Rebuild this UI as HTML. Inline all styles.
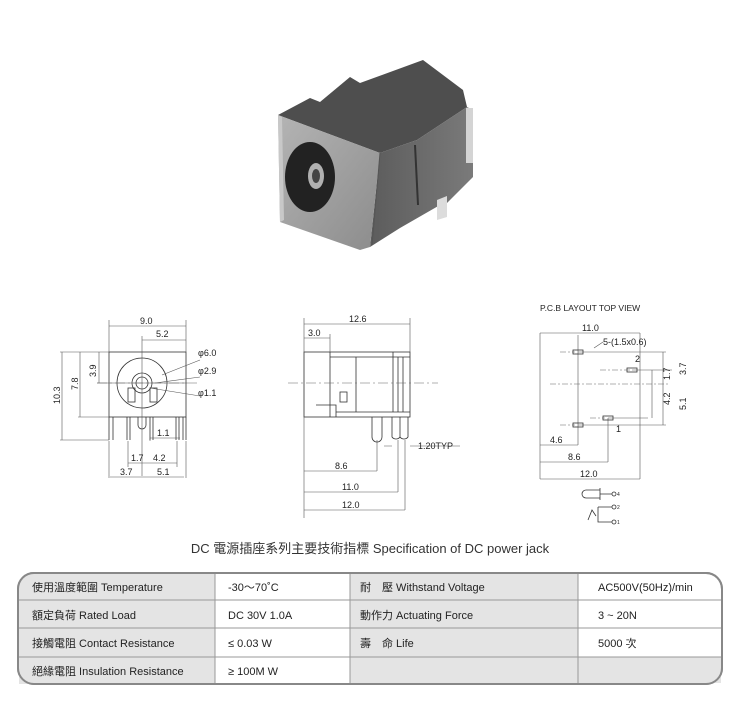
<!DOCTYPE html>
<html><head><meta charset="utf-8"><style>
body{margin:0;background:#fff;width:740px;height:700px;overflow:hidden;font-family:"Liberation Sans","Noto Sans CJK TC",sans-serif}
</style></head><body>
<svg width="740" height="700" viewBox="0 0 740 700" xmlns="http://www.w3.org/2000/svg" font-family="Liberation Sans, Noto Sans CJK TC, sans-serif">
<defs>
<linearGradient id="g1" x1="0" y1="0" x2="1" y2="1"><stop offset="0" stop-color="#b4b4b4"/><stop offset="1" stop-color="#8c8c8c"/></linearGradient>
<linearGradient id="g2" x1="0" y1="0" x2="1" y2="0"><stop offset="0" stop-color="#5c5c5c"/><stop offset="1" stop-color="#7a7a7a"/></linearGradient>
</defs>
<!-- photo -->
<g>
<polygon points="278,115 310,98 320,102 350,77 360,83 423,60 463,90 467,107 417,140 380,153" fill="#4e4e4e"/>
<polygon points="380,153 417,140 467,107 473,110 473,177 447,203 440,205 400,228 370,247" fill="url(#g2)"/>
<polygon points="278,115 380,153 370,247 360,250 280,222" fill="url(#g1)"/>
<polygon points="278,115 282,117 284,220 280,222" fill="#c8c8c8"/>
<ellipse cx="310" cy="177" rx="25" ry="35" fill="#222"/>
<ellipse cx="316" cy="176" rx="8" ry="13" fill="#b0b0b0"/>
<ellipse cx="316" cy="176" rx="4" ry="7" fill="#444"/>
<polygon points="437,200 447,196 447,217 437,220" fill="#dcdcdc"/>
<rect x="466" y="108" width="7" height="55" fill="#d4d4d4"/>
<line x1="415" y1="145" x2="418" y2="205" stroke="#333" stroke-width="2"/>
<line x1="380" y1="153" x2="372" y2="245" stroke="#555" stroke-width="1"/>
</g>

<g stroke="#333" stroke-width="0.8" fill="none">
<!-- front view -->
<rect x="109" y="352" width="77" height="65"/>
<circle cx="142" cy="383" r="25"/>
<circle cx="142" cy="383" r="10"/>
<circle cx="142" cy="383" r="6"/>
<rect x="128" y="388" width="7" height="14"/><rect x="150" y="388" width="7" height="14"/>
<path d="M138,417 v8 a4,4 0 0 0 8,0 v-8"/>
<path d="M109,417v23M113,417v23M127,417v23M130,417v23M150,417v23M153,417v23M176,417v23M179,417v23M183,417v23M186,417v23"/>
<g stroke="#555" stroke-width="0.6">
<path d="M109,320v32M186,320v32M142,336v140M109,326h77M142,340h44"/>
<path d="M60,352h49M60,440h49M78,417h31M97,383h90M62,352v88M80,352v65M99,352v31"/>
<path d="M128,441v26M177,441v26M150,441v-3M109,441v37M186,441v37M150,438h30M128,463h49M110,477h74"/>
<path d="M162,375 L200,360 M155,383 L200,377 M150,388 L200,396"/>
</g>
<!-- side view -->
<rect x="304" y="352" width="106" height="65"/>
<path d="M330,352v65M356,357v55M393,352v60M398,357v55M403,357v55M330,357h80M356,412h54M316,405h20v12M336,412h20"/>
<rect x="340" y="392" width="7" height="10"/>
<path d="M372,417v20a5,5 0 0 0 10,0v-20M392,417v20a5,5 0 0 0 8,0v-20M400,417v20a5,5 0 0 0 8,0v-20"/>
<g stroke="#555" stroke-width="0.6">
<path d="M304,318v200M410,318v34M330,334v18M304,324h106M304,338h26"/>
<path d="M377,440v31M398,440v52M405,440v70M304,471h73M304,492h94M304,510h101M392,446h-8M410,446h50"/>
</g>
<path d="M288,383h150" stroke-dasharray="10,3,2,3" stroke="#666" stroke-width="0.6"/>
<path d="M97,383h100" stroke-dasharray="10,3,2,3" stroke="#666" stroke-width="0.6"/>
<!-- pcb -->
<g stroke="#555" stroke-width="0.6">
<path d="M540,333v146M640,333v146M540,333h100M540,479h100M540,445h38M578,335v110M540,462h68M608,418v44"/>
<path d="M578,352h88M632,370h40M578,425h88M608,418h40M663,352v73M652,370v48"/>
<path d="M594,348 L603,342"/>
</g>
<g stroke="#666" stroke-width="0.6" stroke-dasharray="6,2,2,2"><path d="M560,352h15M600,370h30M550,384h120M560,425h15M590,418h15"/></g>
<rect x="573" y="350" width="10" height="4"/><rect x="627" y="368" width="10" height="4"/><rect x="573" y="423" width="10" height="4"/><rect x="603" y="416" width="10" height="4"/>
<path d="M600,490 h-14 a4,4 0 0 0 0,8 h14 M600,488 v12 M600,494 h12 M598,507 v15 h14 M596,516 l-4,-6 -4,10 M598,507h14"/>
<circle cx="614" cy="494" r="2"/><circle cx="614" cy="507" r="2"/><circle cx="614" cy="522" r="2"/>
</g>

<g font-size="9" fill="#222">
<text x="140" y="324">9.0</text><text x="156" y="337">5.2</text>
<text x="198" y="356">φ6.0</text><text x="198" y="374">φ2.9</text><text x="198" y="396">φ1.1</text>
<text x="157" y="436">1.1</text><text x="131" y="461">1.7</text><text x="153" y="461">4.2</text>
<text x="120" y="475">3.7</text><text x="157" y="475">5.1</text>
<text transform="translate(60,404) rotate(-90)">10.3</text>
<text transform="translate(78,390) rotate(-90)">7.8</text>
<text transform="translate(96,377) rotate(-90)">3.9</text>
<text x="349" y="322">12.6</text><text x="308" y="336">3.0</text>
<text x="335" y="469">8.6</text><text x="342" y="490">11.0</text><text x="342" y="508">12.0</text>
<text x="418" y="449">1.20TYP</text>
<text x="540" y="311" font-size="8.5">P.C.B LAYOUT    TOP VIEW</text>
<text x="582" y="331">11.0</text><text x="603" y="345">5-(1.5x0.6)</text>
<text x="635" y="362">2</text><text x="616" y="432">1</text>
<text x="550" y="443">4.6</text><text x="568" y="460">8.6</text><text x="580" y="477">12.0</text>
<text transform="translate(670,380) rotate(-90)">1.7</text>
<text transform="translate(686,375) rotate(-90)">3.7</text>
<text transform="translate(670,405) rotate(-90)">4.2</text>
<text transform="translate(686,410) rotate(-90)">5.1</text>
<text x="617" y="496" font-size="5">4</text><text x="617" y="509" font-size="5">2</text><text x="617" y="524" font-size="5">1</text>
</g>

<text x="370" y="553" text-anchor="middle" font-size="13" fill="#333">DC  電源插座系列主要技術指標 Specification of DC power jack</text>

<!-- table -->
<rect x="18" y="573" width="704" height="111" rx="16" fill="#fff" stroke="#888" stroke-width="2"/>
<path d="M215,574v110H19V589Q19,574,34,574Z" fill="#e4e4e4"/>
<rect x="350" y="574" width="228" height="110" fill="#e4e4e4"/>
<rect x="350" y="657" width="371" height="26" fill="#e4e4e4"/>
<g stroke="#999" stroke-width="1">
<path d="M215,574v110M350,574v110M578,574v110M19,600h702M19,628h702M19,657h702"/>
</g>
<rect x="18" y="573" width="704" height="111" rx="16" fill="none" stroke="#888" stroke-width="2"/>
<g font-size="11" fill="#222">
<text x="32" y="591">使用溫度範圍 Temperature</text><text x="228" y="591">-30～70˚C</text><text x="360" y="591">耐　壓 Withstand Voltage</text><text x="598" y="591">AC500V(50Hz)/min</text>
<text x="32" y="619">額定負荷  Rated Load</text><text x="228" y="619">DC  30V  1.0A</text><text x="360" y="619">動作力 Actuating Force</text><text x="598" y="619">3 ~ 20N</text>
<text x="32" y="647">接觸電阻  Contact Resistance</text><text x="228" y="647">≤ 0.03 W</text><text x="360" y="647">壽　命 Life</text><text x="598" y="647">5000 次</text>
<text x="32" y="675">絕緣電阻  Insulation Resistance</text><text x="228" y="675">≥ 100M W</text>
</g>
</svg>
</body></html>
